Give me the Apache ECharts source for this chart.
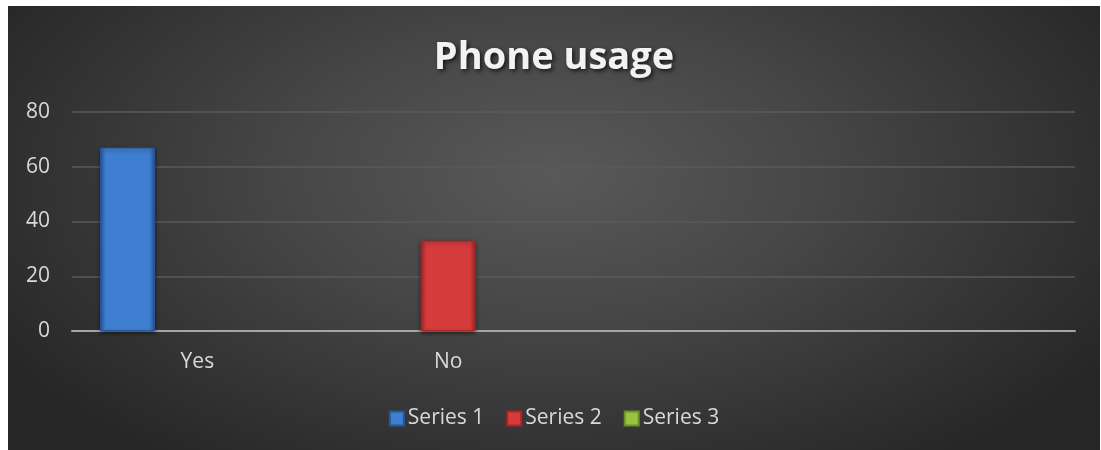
<!DOCTYPE html>
<html>
<head>
<meta charset="utf-8">
<script src="https://cdn.jsdelivr.net/npm/echarts@6/dist/echarts.min.js"></script>
<style>
html,body{margin:0;padding:0;background:#ffffff;}
#chart{position:absolute;left:8px;top:6px;width:1092px;height:444px;
  background:radial-gradient(ellipse 60% 80% at 50% 38%, #595959 0%, #474747 40%, #262626 100%);}
</style>
</head>
<body>
<div id="chart"></div>
<script>
var titleText = 'Phone usage';
var categories = ['Yes', 'No', '', ''];
var seriesNames = ['Series 1', 'Series 2', 'Series 3'];
var series1 = [67, null, null, null];
var series2 = [null, 33, null, null];
var series3 = [null, null, null, null];
var yTicks = { min: 0, max: 80, interval: 20 };

var colors = [
  ['#275799', '#3f7fd2', '#275799'],
  ['#a82626', '#d63c3c', '#a82626'],
  ['#6f8f26', '#99c23e', '#6f8f26']
];
function grad(c) {
  return new echarts.graphic.LinearGradient(0, 0, 1, 0, [
    { offset: 0, color: c[0] },
    { offset: 0.1, color: c[1] },
    { offset: 0.9, color: c[1] },
    { offset: 1, color: c[2] }
  ]);
}
var font = '"Open Sans", Lato, "Liberation Sans", sans-serif';
var dataSets = [series1, series2, series3];
var chart = echarts.init(document.getElementById('chart'));
chart.setOption({
  backgroundColor: 'transparent',
  animation: false,
  title: {
    text: titleText,
    left: 'center',
    top: 28,
    textStyle: {
      color: '#f2f2f2', fontSize: 38, fontWeight: 'bold', fontFamily: font,
      textShadowColor: 'rgba(0,0,0,0.7)', textShadowBlur: 4, textShadowOffsetX: 2, textShadowOffsetY: 2
    }
  },
  legend: {
    bottom: 16,
    left: 'center',
    itemWidth: 14,
    itemHeight: 14,
    itemGap: 22,
    textStyle: { color: '#d9d9d9', fontSize: 21, fontFamily: font, padding: [0, 0, 0, -1] },
    data: seriesNames.map(function (n, i) {
      return { name: n, icon: 'rect', itemStyle: { color: grad(colors[i]) } };
    })
  },
  grid: { left: 64, right: 25, top: 106, bottom: 119, containLabel: false },
  xAxis: {
    type: 'category',
    data: categories,
    axisLine: { lineStyle: { color: '#a6a6a6', width: 2 } },
    axisTick: { show: false },
    axisLabel: { color: '#d9d9d9', fontSize: 21, fontFamily: font, margin: 21 }
  },
  yAxis: {
    type: 'value',
    min: yTicks.min, max: yTicks.max, interval: yTicks.interval,
    axisLine: { show: false },
    axisTick: { show: false },
    axisLabel: { color: '#d9d9d9', fontSize: 21, fontFamily: font, margin: 22 },
    splitLine: { lineStyle: { color: '#5a5a5a', width: 1.5 } }
  },
  series: dataSets.map(function (d, i) {
    return {
      name: seriesNames[i],
      type: 'bar',
      data: d,
      barWidth: 55,
      barGap: '27%',
      itemStyle: {
        color: grad(colors[i]),
        borderColor: colors[i][0],
        borderWidth: 1,
        shadowColor: 'rgba(0,0,0,0.5)',
        shadowBlur: 4,
        shadowOffsetY: 2
      }
    };
  })
});
</script>
</body>
</html>
